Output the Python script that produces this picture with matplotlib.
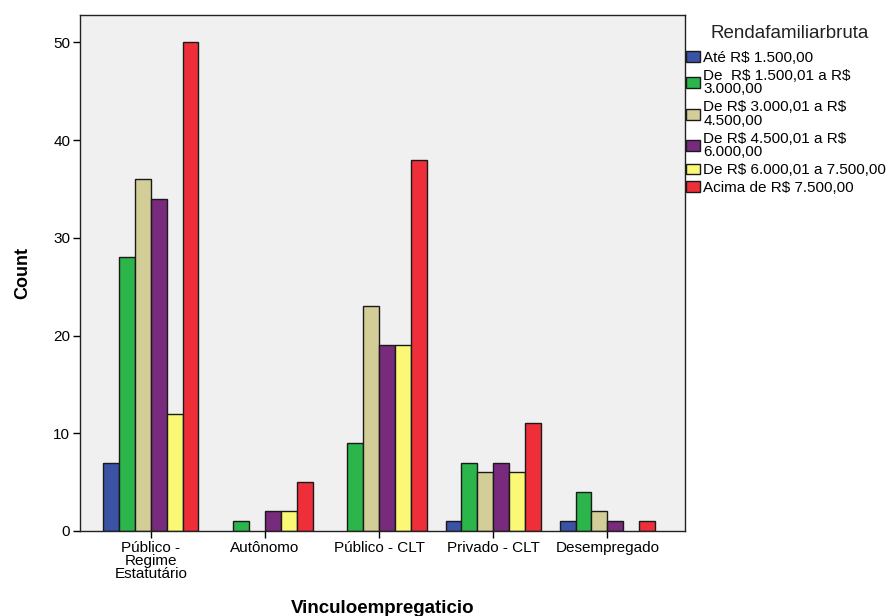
import numpy as np
import matplotlib
matplotlib.use("Agg")
import matplotlib.pyplot as plt

plt.rcParams['font.family'] = ['Liberation Sans', 'DejaVu Sans']
plt.rcParams['text.parse_math'] = False

categories = ["Público -\nRegime\nEstatutário", "Autônomo", "Público - CLT",
              "Privado - CLT", "Desempregado"]
series_labels = ["Até R$ 1.500,00",
                 "De  R$ 1.500,01 a R$\n3.000,00",
                 "De R$ 3.000,01 a R$\n4.500,00",
                 "De R$ 4.500,01 a R$\n6.000,00",
                 "De R$ 6.000,01 a 7.500,00",
                 "Acima de R$ 7.500,00"]
ate_1500 = [7, 0, 0, 1, 1]
de_1500_3000 = [28, 1, 9, 7, 4]
de_3000_4500 = [36, 0, 23, 6, 2]
de_4500_6000 = [34, 2, 19, 7, 1]
de_6000_7500 = [12, 2, 19, 6, 0]
acima_7500 = [50, 5, 38, 11, 1]
series = [ate_1500, de_1500_3000, de_3000_4500, de_4500_6000, de_6000_7500, acima_7500]
colors = ["#3a53a4", "#2bb54a", "#d3cd97", "#782a7c", "#fbf875", "#ee2e38"]

fig = plt.figure(figsize=(8.93, 6.16), dpi=100)
ax = fig.add_axes([0.0896, 0.138, 0.767 - 0.0896, 0.9756 - 0.138])
ax.set_facecolor("#f0f0f0")

x = np.arange(len(categories))
width = 0.139
for i, (vals, lab, col) in enumerate(zip(series, series_labels, colors)):
    offs = (i - 2.5) * width
    vals = np.array(vals, dtype=float)
    # zero counts: no visible bar
    lw = [1.0 if v > 0 else 0 for v in vals]
    ax.bar(x + offs, vals, width, color=col, edgecolor="#1a1a1a", linewidth=lw, label=lab)

ax.set_xlim(-0.62, 4.68)
ax.set_ylim(0, 52.8)
ax.set_yticks([0, 10, 20, 30, 40, 50])
ax.set_xticks(x)
ax.set_xticklabels(categories, fontsize=11, linespacing=0.9)
ax.tick_params(axis="both", direction="out", length=5, width=1, labelsize=11,
               colors="black", pad=2)
for s in ax.spines.values():
    s.set_linewidth(1.0)
    s.set_color("#222222")

ax.set_ylabel("Count", fontsize=13, fontweight="bold", labelpad=16)
ax.set_xlabel("Vinculoempregaticio", fontsize=13.5, fontweight="bold", labelpad=14)

# legend title placed separately (SPSS style: centred, with a gap)
fig.text(790 / 893, 1 - 33 / 616, "Rendafamiliarbruta", fontsize=13.5,
         ha="center", va="center", color="#222222")
leg = fig.legend(loc="upper left", bbox_to_anchor=(0.768, 1 - 51 / 616), frameon=False,
                 fontsize=11, handlelength=0.95, handleheight=0.72, handletextpad=0.2,
                 labelspacing=0.25, borderaxespad=0, borderpad=0)
for t in leg.get_texts():
    t.set_linespacing(0.97)

fig.savefig("out.png", dpi=100)
